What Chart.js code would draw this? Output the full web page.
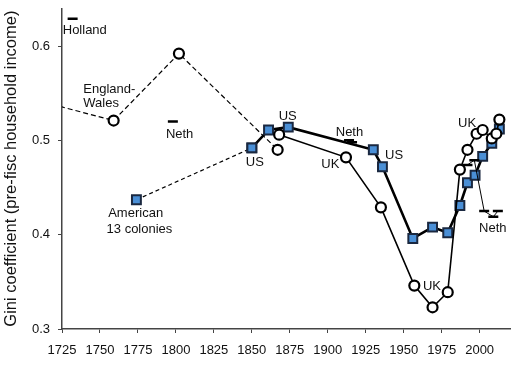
<!DOCTYPE html>
<html>
<head>
<meta charset="utf-8">
<script src="https://cdn.jsdelivr.net/npm/chart.js@4.4.0/dist/chart.umd.min.js"></script>
<style>
  body { margin: 0; background: #fff; }
  #wrap { width: 527px; height: 373px; }
</style>
</head>
<body>
<div id="wrap"><canvas id="giniChart" width="527" height="373"></canvas></div>
<script>
// years and Gini values
const ewYears = [1688, 1759, 1802, 1867];
const ewValues = [0.551, 0.521, 0.592, 0.49];

const ukYears = [1868, 1912, 1935, 1957, 1969, 1979, 1987, 1992, 1998, 2002, 2008, 2011, 2013];
const ukValues = [0.506, 0.482, 0.429, 0.346, 0.323, 0.339, 0.469, 0.49, 0.507, 0.511, 0.502, 0.507, 0.522];

const colonyYears = [1774, 1850];
const colonyValues = [0.437, 0.492];

const usYears = [1850, 1861, 1874, 1930, 1936, 1956, 1969, 1979, 1987, 1992, 1997, 2002, 2008, 2013];
const usValues = [0.492, 0.511, 0.514, 0.49, 0.472, 0.396, 0.408, 0.402, 0.431, 0.455, 0.463, 0.483, 0.497, 0.512];

const nethOldYears = [1732, 1798, 1914, 1916];
const nethOldValues = [0.629, 0.52, 0.5, 0.498];

const nethYears = [1992, 1996.5, 2003, 2009, 2012];
const nethValues = [0.474, 0.479, 0.425, 0.419, 0.425];

const xTicks = [1725, 1750, 1775, 1800, 1825, 1850, 1875, 1900, 1925, 1950, 1975, 2000];
const yTicks = [0.3, 0.4, 0.5, 0.6];

// text notes placed in data units: [text, year, value, align]
const notes = [
  ["Holland", 1740, 0.617, "center"],
  ["England-", 1739, 0.5543, "left"],
  ["Wales", 1739, 0.5393, "left"],
  ["Neth", 1793.4, 0.5064, "left"],
  ["American", 1773.5, 0.4225, "center"],
  ["13 colonies", 1776, 0.4057, "center"],
  ["US", 1852, 0.4767, "center"],
  ["US", 1873.6, 0.5253, "center"],
  ["Neth", 1914.3, 0.5088, "center"],
  ["UK", 1901.7, 0.4749, "center"],
  ["US", 1943.7, 0.4844, "center"],
  ["UK", 1968.6, 0.3451, "center"],
  ["UK", 1991.7, 0.5175, "center"],
  ["Neth", 2008.7, 0.4063, "center"],
];

const FONT = "'Liberation Sans', Arial, sans-serif";

function toPoints(xs, ys) {
  return xs.map((x, i) => ({ x: x, y: ys[i] }));
}

const circleStyle = {
  pointStyle: "circle",
  pointRadius: 5,
  pointBackgroundColor: "#fff",
  pointBorderColor: "#000",
  pointBorderWidth: 2.2,
};

const squareStyle = {
  pointStyle: "rect",
  pointRadius: 6.3,
  pointBackgroundColor: "#4a8fd6",
  pointBorderColor: "#1a2840",
  pointBorderWidth: 2,
};

const notesPlugin = {
  id: "notes",
  afterDatasetsDraw(chart) {
    const c = chart.ctx;
    const xs = chart.scales.x;
    const ys = chart.scales.y;
    c.save();
    c.font = "13px " + FONT;
    c.fillStyle = "#111";
    c.textBaseline = "middle";
    notes.forEach((n) => {
      c.textAlign = n[3];
      c.fillText(n[0], xs.getPixelForValue(n[1]), ys.getPixelForValue(n[2]));
    });
    c.restore();
  },
};

const ctx = document.getElementById("giniChart").getContext("2d");
new Chart(ctx, {
  type: "line",
  data: {
    datasets: [
      Object.assign({
        label: "UK",
        data: toPoints(ukYears, ukValues),
        borderColor: "#000",
        borderWidth: 1.6,
      }, circleStyle),
      Object.assign({
        label: "England-Wales",
        data: toPoints(ewYears, ewValues),
        borderColor: "#000",
        borderWidth: 1.2,
        borderDash: [5, 3],
      }, circleStyle),
      {
        label: "Neth",
        data: toPoints(nethYears, nethValues),
        borderColor: "#000",
        borderWidth: 1,
        pointStyle: "line",
        pointRadius: 5,
        pointBorderColor: "#000",
        pointBorderWidth: 2.5,
      },
      {
        label: "Neth early",
        data: toPoints(nethOldYears, nethOldValues),
        showLine: false,
        pointStyle: "line",
        pointRadius: 5,
        pointBorderColor: "#000",
        pointBorderWidth: 2.5,
      },
      Object.assign({
        label: "US",
        data: toPoints(usYears, usValues),
        borderColor: "#000",
        borderWidth: 2.6,
      }, squareStyle),
      Object.assign({
        label: "American 13 colonies",
        data: toPoints(colonyYears, colonyValues),
        borderColor: "#000",
        borderWidth: 1.2,
        borderDash: [4, 3],
      }, squareStyle),
    ],
  },
  options: {
    responsive: false,
    animation: false,
    layout: { padding: { top: 5, right: 17, left: 0, bottom: 0 } },
    plugins: {
      legend: { display: false },
      tooltip: { enabled: false },
    },
    scales: {
      x: {
        type: "linear",
        min: 1725,
        max: 2020,
        afterBuildTicks: (s) => { s.ticks = xTicks.map((v) => ({ value: v })); },
        afterFit: (s) => { s.height = 44; s.paddingLeft = 0; s.paddingRight = 0; },
        ticks: {
          color: "#111",
          font: { family: FONT, size: 13 },
          padding: 10,
          maxRotation: 0,
          autoSkip: false,
          callback: (v) => String(v),
        },
        grid: { drawOnChartArea: false, tickLength: 4, color: "#444" },
        border: { color: "#444", width: 1.5 },
      },
      y: {
        min: 0.3,
        max: 0.64,
        afterBuildTicks: (s) => { s.ticks = yTicks.map((v) => ({ value: v })); },
        afterFit: (s) => { s.width = 62; s.paddingTop = 0; s.paddingBottom = 0; },
        ticks: {
          color: "#111",
          font: { family: FONT, size: 13 },
          padding: 8,
          callback: (v) => Number(v).toFixed(1),
        },
        grid: { drawOnChartArea: false, tickLength: 4, color: "#444" },
        border: { color: "#444", width: 1.5 },
        title: {
          display: true,
          text: "Gini coefficient (pre-fisc household income)",
          color: "#111",
          font: { family: FONT, size: 16.5 },
          padding: { top: 2, bottom: 0 },
        },
      },
    },
  },
  plugins: [notesPlugin],
});
</script>
</body>
</html>
